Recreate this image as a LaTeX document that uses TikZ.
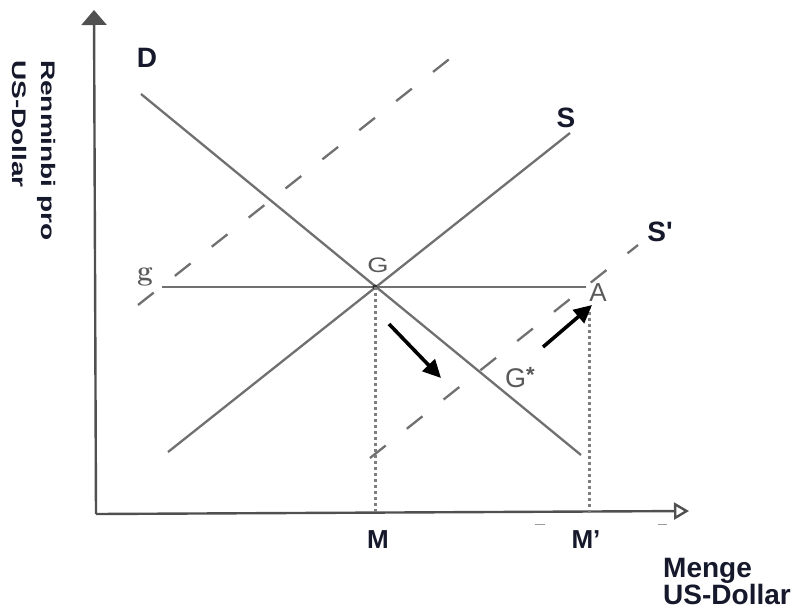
\documentclass[tikz,border=0pt]{standalone}
\usepackage{fontspec}
\newfontfamily\labfont{Liberation Sans}
\usetikzlibrary{arrows.meta}
\definecolor{linegray}{HTML}{707070}
\definecolor{handgray}{HTML}{5A5A5A}
\definecolor{axisgray}{HTML}{505050}
\definecolor{labelnavy}{HTML}{16192B}
\begin{document}
\begin{tikzpicture}[x=1pt,y=-1pt,
  curve/.style={draw=linegray, line width=2.3pt},
  shifted/.style={draw=linegray, line width=2.3pt, dash pattern=on 20pt off 27pt},
  guide/.style={draw=linegray!90, line width=3pt, dash pattern=on 3pt off 3pt},
  axis/.style={draw=axisgray, line width=2.4pt},
  move/.style={draw=black, line width=3.6pt, -{Triangle[length=18pt,width=17pt]}},
  lab/.style={font=\labfont\bfseries\fontsize{28}{27}\selectfont, text=labelnavy, inner sep=0pt},
  mlab/.style={font=\labfont\bfseries\fontsize{26}{26}\selectfont, text=labelnavy, inner sep=0pt},
  hand/.style={text=handgray, inner sep=0pt}]
\useasboundingbox (0,0) rectangle (794,611);
\fill[white] (0,0) rectangle (794,611);

% axes
\coordinate (O) at (96,514);
\coordinate (Ytop) at (94,10);
\coordinate (Xend) at (689,511);
\draw[axis, -{Triangle[length=15pt,width=25pt]}] (O) -- (Ytop);
\draw[axis, -{Triangle[open,length=15pt,width=17pt,fill=white]}] (O) -- (Xend);

% curves
\coordinate (D1) at (141,94);
\coordinate (D2) at (581,455);
\coordinate (S1) at (168,452);
\coordinate (S2) at (570,133);
\coordinate (Sp1) at (370,458);
\coordinate (Sp2) at (638,245);
\coordinate (U1) at (138,305);
\coordinate (U2) at (457,53);
\coordinate (H1) at (162,287);
\coordinate (G) at (375,287);
\coordinate (A) at (586,287);
\coordinate (Mx) at (375,514);
\coordinate (Ax1) at (589,306);
\coordinate (Ax2) at (589,513);

\draw[curve] (D1) -- (D2);
\draw[curve] (S1) -- (S2);
\draw[curve] (H1) -- (A);
\draw[shifted] (Sp1) -- (Sp2);
\draw[shifted] (U1) -- (U2);
\fill[black!80] (G) circle (2.5pt);

\draw[guide] (G) -- (Mx);
\draw[guide] (Ax1) -- (Ax2);

% movement arrows
\coordinate (a1s) at (389,324);
\coordinate (a1e) at (441,378);
\coordinate (a2s) at (543,347);
\coordinate (a2e) at (592,305);
\draw[move] (a1s) -- (a1e);
\draw[move] (a2s) -- (a2e);

% small scan marks on the x axis
\coordinate (t1a) at (535,524);
\coordinate (t1b) at (545,524);
\coordinate (t2a) at (658,524);
\coordinate (t2b) at (667,524);
\draw[linegray!70, line width=1pt] (t1a) -- (t1b);
\draw[linegray!70, line width=1pt] (t2a) -- (t2b);

% labels
\node[lab] (lD) at (147,58) {D};
\node[lab] (lS) at (566,118) {S};
\node[lab] (lSp) at (660,232) {S\textquotesingle};
\node[mlab] (lM) at (378,540) {M};
\node[mlab] (lMp) at (586,540) {M’};
\node[lab, anchor=north west, align=left] (lx) at (663,558) {Menge\\US-Dollar};
\node[lab, rotate=-90, anchor=north west] (ly) at (56,60)
  {\scalebox{1}[0.7]{\fontsize{28}{41}\selectfont\vbox{\hbox{Renminbi pro}\hbox{US-Dollar}}}};

\node[hand, font=\bfseries\fontsize{28}{28}\selectfont] (lg) at (145,277) {g};
\node[hand, font=\labfont\fontsize{21}{21}\selectfont] (lG) at (378,265) {\scalebox{1.3}[1]{G}};
\node[hand, font=\labfont\fontsize{26}{26}\selectfont] (lA) at (598,293) {A};
\node[hand, font=\labfont\fontsize{27}{27}\selectfont] (lGs) at (520,378) {G\raisebox{5pt}{\fontsize{22}{22}\selectfont\bfseries *}};
\end{tikzpicture}
\end{document}
